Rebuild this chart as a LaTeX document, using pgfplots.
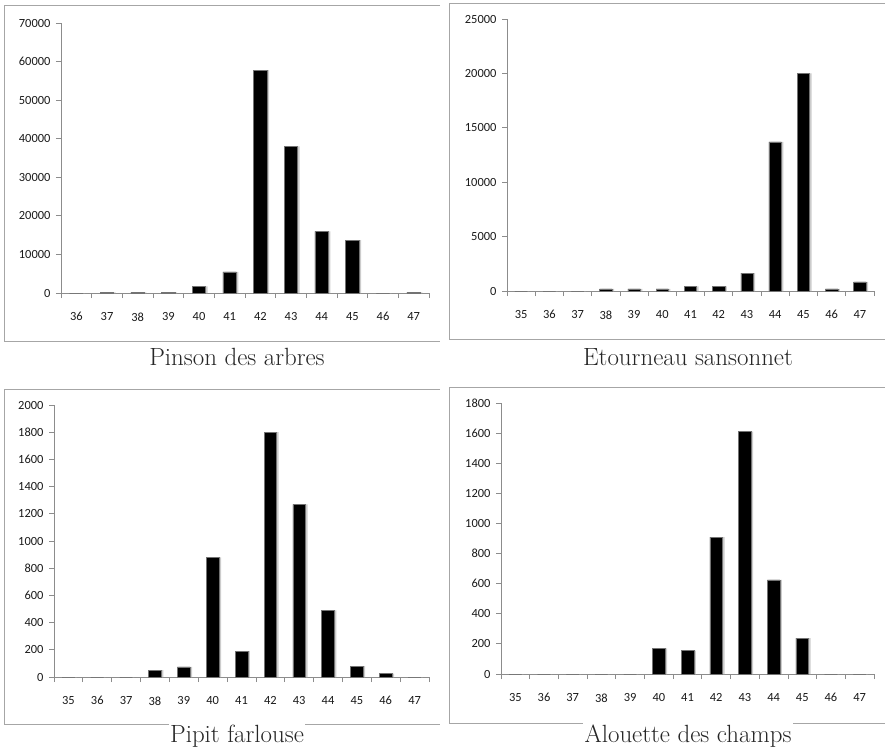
\documentclass[border=0pt]{standalone}
\usepackage{pgfplots}
\pgfplotsset{compat=1.18}
\usepackage{fontspec}
\newfontfamily\carlito{Carlito}
\newcommand\tickfont{\carlito\fontsize{12.5}{14}\selectfont}
\pgfplotsset{
 panel/.style={
  scale only axis, anchor=south west,
  axis x line*=bottom, axis y line*=left,
  axis line style={draw=black!45, line width=0.8bp},
  tick align=outside, major tick length=5bp,
  tick style={draw=black!45, line width=0.8bp},
  ymin=0,
  xtick={-0.5,0.5,...,12.5}, x tick label as interval,
  every tick label/.append style={text=black!90},
  xticklabel style={yshift=-11bp},
  yticklabel style={xshift=-2bp},
  yticklabel={\tickfont\pgfmathprintnumber[assume math mode=true,1000 sep={}]{\tick}},
  scaled y ticks=false,
  ybar, bar width=0.44,
 },
 xfirst/.style={xticklabel={\tickfont\pgfmathparse{int(round(\tick+0.5+#1))}\pgfmathresult}},
 barstyle/.style={fill=black, draw=black!55, line width=0.5bp,
    preaction={fill=black!20, draw=none, transform canvas={xshift=2bp}}}
}
\begin{document}
\begin{tikzpicture}
\path[use as bounding box] (0,0) rectangle (885bp,-748bp);
% frames
\draw[black!35, line width=0.8bp] (440bp,-5bp) -- (4bp,-5bp) -- (4bp,-341bp) -- (440bp,-341bp);
\draw[black!35, line width=0.8bp] (885bp,-3bp) -- (449bp,-3bp) -- (449bp,-339bp) -- (885bp,-339bp);
\draw[black!35, line width=0.8bp] (440bp,-389bp) -- (4bp,-389bp) -- (4bp,-724bp) -- (440bp,-724bp);
\draw[black!35, line width=0.8bp] (885bp,-387bp) -- (449bp,-387bp) -- (449bp,-723bp) -- (885bp,-723bp);

% Pinson des arbres
\begin{axis}[panel, at={(61bp,-293bp)}, width=368bp, height=270bp,
  xmin=-0.5, xmax=11.5, ymax=70000, ytick={0,10000,...,70000}, xfirst=36]
\addplot[barstyle] coordinates {(0,0) (1,150) (2,150) (3,150) (4,1700) (5,5500) (6,57800) (7,38000) (8,16000) (9,13700) (10,0) (11,150)};
\end{axis}

% Etourneau sansonnet
\begin{axis}[panel, at={(507bp,-291bp)}, width=367bp, height=272bp,
  xmin=-0.5, xmax=12.5, ymax=25000, ytick={0,5000,...,25000}, xfirst=35]
\addplot[barstyle] coordinates {(0,0) (1,0) (2,0) (3,200) (4,200) (5,200) (6,430) (7,430) (8,1650) (9,13700) (10,20000) (11,200) (12,830)};
\end{axis}

% Pipit farlouse
\begin{axis}[panel, at={(54bp,-677bp)}, width=375bp, height=272bp,
  xmin=-0.5, xmax=12.5, ymax=2000, ytick={0,200,...,2000}, xfirst=35]
\addplot[barstyle] coordinates {(0,0) (1,0) (2,0) (3,50) (4,75) (5,880) (6,190) (7,1800) (8,1270) (9,490) (10,80) (11,25) (12,0)};
\end{axis}

% Alouette des champs
\begin{axis}[panel, at={(501bp,-674bp)}, width=373bp, height=271bp,
  xmin=-0.5, xmax=12.5, ymax=1800, ytick={0,200,...,1800}, xfirst=35]
\addplot[barstyle] coordinates {(0,0) (1,0) (2,0) (3,0) (4,0) (5,170) (6,155) (7,910) (8,1610) (9,625) (10,238) (11,0) (12,0)};
\end{axis}

% titles
\begin{scope}[every node/.style={font=\fontsize{25}{28}\selectfont, anchor=base, fill=white, inner sep=1.5bp, text=black!85}]
\node at (237bp,-365bp) {Pinson des arbres};
\node at (688bp,-365bp) {Etourneau sansonnet};
\node at (237bp,-742bp) {Pipit farlouse};
\node at (688bp,-742bp) {Alouette des champs};
\end{scope}
\end{tikzpicture}
\end{document}
